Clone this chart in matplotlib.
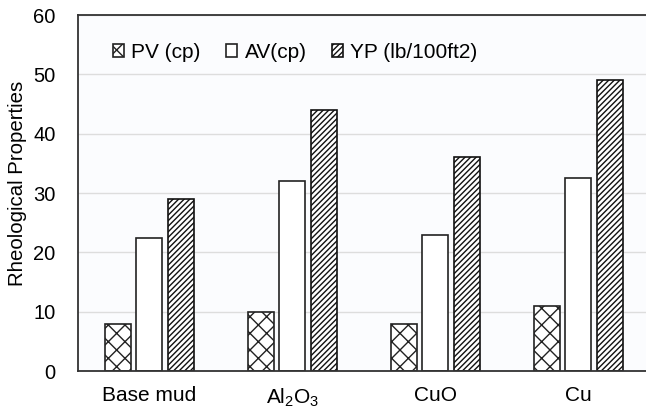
import numpy as np
import matplotlib
matplotlib.use('Agg')
import matplotlib.pyplot as plt

plt.rcParams['font.family'] = ['Liberation Sans', 'DejaVu Sans']
plt.rcParams['mathtext.fontset'] = 'custom'
plt.rcParams['mathtext.rm'] = 'Liberation Sans'
plt.rcParams['mathtext.it'] = 'Liberation Sans:italic'
plt.rcParams['hatch.linewidth'] = 1.0

categories = ['Base mud', r'Al$_\mathrm{2}$O$_\mathrm{3}$', 'CuO', 'Cu']
pv = [8, 10, 8, 11]
av = [22.5, 32, 23, 32.5]
yp = [29, 44, 36, 49]
series_names = ['PV (cp)', 'AV(cp)', 'YP (lb/100ft2)']

fig = plt.figure(figsize=(6.46, 4.09), dpi=100)
ax = fig.add_axes([0.1207, 0.0929, 0.8854, 0.8704])
ax.set_facecolor('#fbfcfe')

x = np.arange(len(categories))
w = 0.182
off = 0.222
ax.bar(x - off, pv, w, color='white', edgecolor='#222222', hatch='xx', linewidth=1.2, label=series_names[0])
ax.bar(x, av, w, color='white', edgecolor='#222222', linewidth=1.2, label=series_names[1])
ax.bar(x + off, yp, w, color='white', edgecolor='#111111', hatch='//////', linewidth=1.2, label=series_names[2])

ax.set_ylim(0, 60)
ax.set_yticks(range(0, 61, 10))
ax.set_xlim(-0.5, 3.5)
ax.set_xticks(x)
ax.set_xticklabels(categories)
ax.tick_params(axis='x', length=0, labelsize=15, pad=11)
ax.tick_params(axis='y', length=0, labelsize=14.5, pad=16)
ax.grid(axis='y', color='#dddddd', linewidth=1)
ax.set_axisbelow(True)
ax.spines['right'].set_visible(False)
for s in ['left', 'top', 'bottom']:
    ax.spines[s].set_color('#333333')
    ax.spines[s].set_linewidth(1.3)
ax.set_ylabel('Rheological Properties', fontsize=14.7)
ax.yaxis.set_label_coords(-0.089, 0.528)

ax.legend(loc='upper left', bbox_to_anchor=(0.028, 0.975), ncol=3, frameon=False,
          fontsize=15, handlelength=0.55, handleheight=0.55, handletextpad=0.35,
          columnspacing=1.2)

fig.savefig('out.png', dpi=100)
